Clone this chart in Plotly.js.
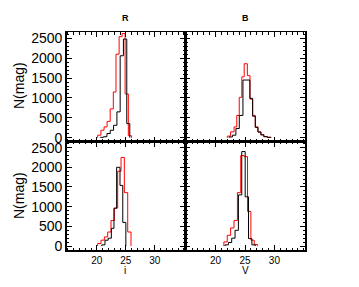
<!DOCTYPE html>
<html>
<head>
<meta charset="utf-8">
<script src="https://cdn.plot.ly/plotly-3.0.1.min.js"></script>
<style>html,body{margin:0;padding:0;background:#fff;}#chart{width:359px;height:287px;}</style>
</head>
<body>
<div id="chart"></div>
<script>
// ---- Data (bin edges in mag, counts per bin) ----
// Panel R (top-left)
const tlRedEdges   = [20.14, 20.7, 21.24, 21.77, 22.3, 22.84, 23.3, 23.84, 24.35, 24.87, 25.43, 25.98];
const tlRedCounts  = [64, 190, 272, 411, 725, 1150, 2100, 2540, 2620, 1100, 50];
const tlBlackEdges = [20.6, 21.17, 21.74, 22.31, 22.88, 23.46, 24.02, 24.58, 25.16, 25.68];
const tlBlackCounts= [10, 25, 106, 188, 312, 650, 2060, 2480, 354];
// Panel B (top-right)
const trRedEdges   = [21.99, 22.56, 23.14, 23.6, 24.02, 24.46, 24.86, 25.4, 25.85, 26.3, 26.75, 27.2, 27.7, 28.2, 28.8, 29.4];
const trRedCounts  = [40, 148, 272, 560, 1015, 1530, 1860, 1560, 970, 560, 272, 150, 80, 30, 10];
const trBlackEdges = [22.3, 22.88, 23.45, 24.03, 24.65, 25.24, 25.83, 26.3, 26.75, 27.2, 27.7, 28.2, 28.8, 29.4];
const trBlackCounts= [20, 64, 230, 560, 1450, 1450, 990, 540, 260, 140, 70, 25, 10];
// Panel i (bottom-left)
const blRedEdges   = [20.14, 20.72, 21.29, 21.87, 22.44, 23.02, 23.59, 24.17, 24.74, 25.32, 25.89];
const blRedCounts  = [65, 150, 232, 357, 648, 965, 1900, 2250, 1357, 357];
const blBlackEdges = [20.85, 21.4, 21.95, 22.5, 22.95, 23.41, 23.99, 24.47, 25.0];
const blBlackCounts= [30, 148, 200, 450, 960, 2000, 1540, 600];
// Panel V (bottom-right)
const brRedEdges   = [21.41, 21.98, 22.56, 23.13, 23.71, 24.28, 24.86, 25.43, 26.0, 26.57, 27.1];
const brRedCounts  = [107, 273, 460, 650, 1357, 2300, 2270, 880, 150, 40];
const brBlackEdges = [21.6, 22.17, 22.74, 23.31, 23.88, 24.45, 25.03, 25.6, 26.17, 26.74];
const brBlackCounts= [30, 90, 200, 400, 1300, 2400, 1250, 190, 30];

const topTitles = ["R", "B"];
const bottomTitles = ["i", "V"];
const yTitle = "N(mag)";
const xTickVals = [20, 25, 30];
const xTickText = ["20", "25", "30"];
const yTickVals = [0, 500, 1000, 1500, 2000, 2500];
const yTickText = ["0", "500", "1000", "1500", "2000", "2500"];

// ---- Build step traces ----
function stepTrace(edges, counts, color, xa, ya) {
  const x = [edges[0]], y = [0];
  for (let i = 0; i < counts.length; i++) { x.push(edges[i]); y.push(counts[i]); }
  x.push(edges[counts.length]); y.push(0);
  return {x: x, y: y, type: 'scatter', mode: 'lines', line: {shape: 'hv', color: color, width: 1},
          xaxis: xa, yaxis: ya, hoverinfo: 'skip', showlegend: false};
}
const RED = '#ff0000', BLK = '#000000';
const data = [
  stepTrace(tlRedEdges, tlRedCounts, RED, 'x', 'y'),
  stepTrace(tlBlackEdges, tlBlackCounts, BLK, 'x', 'y'),
  stepTrace(trRedEdges, trRedCounts, RED, 'x2', 'y2'),
  stepTrace(trBlackEdges, trBlackCounts, BLK, 'x2', 'y2'),
  stepTrace(blRedEdges, blRedCounts, RED, 'x3', 'y3'),
  stepTrace(blBlackEdges, blBlackCounts, BLK, 'x3', 'y3'),
  stepTrace(brRedEdges, brRedCounts, RED, 'x4', 'y4'),
  stepTrace(brBlackEdges, brBlackCounts, BLK, 'x4', 'y4')
];

// ---- Layout ----
const W = 359, H = 287;
const px = v => v / W, py = v => 1 - v / H;
const xL = [px(66.7), px(185)], xR = [px(185), px(305)];
const yT = [py(141.7), py(32.3)], yB = [py(250), py(141.7)];
const xMinor = []; for (let v = 15; v <= 35; v++) if (xTickVals.indexOf(v) < 0) xMinor.push(v);
const yMinor = []; for (let v = 100; v <= 2600; v += 100) if (yTickVals.indexOf(v) < 0) yMinor.push(v);
const FONT = 'Liberation Sans, Arial, Helvetica, sans-serif';

function xAxis(domain, anchor, labels) {
  return {domain: domain, anchor: anchor, range: [14.8, 35.2], showgrid: false, zeroline: false,
    showline: true, linecolor: '#000', linewidth: 1.5, mirror: 'allticks',
    ticks: 'inside', ticklen: 5, tickwidth: 1, tickcolor: '#000',
    tickmode: 'array', tickvals: xTickVals, ticktext: xTickText, showticklabels: labels,
    tickfont: {family: FONT, size: 10, color: '#000'},
    minor: {ticks: 'inside', tickmode: 'array', tickvals: xMinor, ticklen: 2.5, tickwidth: 1, tickcolor: '#000'}};
}
function yAxis(domain, anchor, labels) {
  return {domain: domain, anchor: anchor, range: [-100, 2650], showgrid: false, zeroline: false,
    showline: true, linecolor: '#000', linewidth: 1.5, mirror: 'allticks',
    ticks: 'inside', ticklen: 5, tickwidth: 1, tickcolor: '#000',
    tickmode: 'array', tickvals: yTickVals, ticktext: yTickText, showticklabels: labels,
    tickfont: {family: FONT, size: 14, color: '#000'},
    minor: {ticks: 'inside', tickmode: 'array', tickvals: yMinor, ticklen: 2.5, tickwidth: 1, tickcolor: '#000'}};
}

const ann = [];
function addText(text, x, y, size, angle) {
  ann.push({text: text, x: px(x), y: py(y), xref: 'paper', yref: 'paper', showarrow: false,
    xanchor: 'center', yanchor: 'middle', textangle: angle || 0,
    font: {family: FONT, size: size, color: '#000'}});
}
addText('<b>' + topTitles[0] + '</b>', 125, 18, 9);
addText('<b>' + topTitles[1] + '</b>', 245, 18, 9);
addText(bottomTitles[0], 125, 270, 10);
addText(bottomTitles[1], 245, 270, 10);
addText(yTitle, 19, 86, 14, -90);
addText(yTitle, 19, 196, 14, -90);

const layout = {
  width: W, height: H, margin: {l: 0, r: 0, t: 0, b: 0},
  paper_bgcolor: '#fff', plot_bgcolor: '#fff', showlegend: false,
  xaxis: xAxis(xL, 'y', false),  yaxis: yAxis(yT, 'x', true),
  xaxis2: xAxis(xR, 'y2', false), yaxis2: yAxis(yT, 'x2', false),
  xaxis3: xAxis(xL, 'y3', true),  yaxis3: yAxis(yB, 'x3', true),
  xaxis4: xAxis(xR, 'y4', true),  yaxis4: yAxis(yB, 'x4', false),
  annotations: ann
};
Plotly.newPlot('chart', data, layout, {staticPlot: true, displayModeBar: false});
</script>
</body>
</html>
